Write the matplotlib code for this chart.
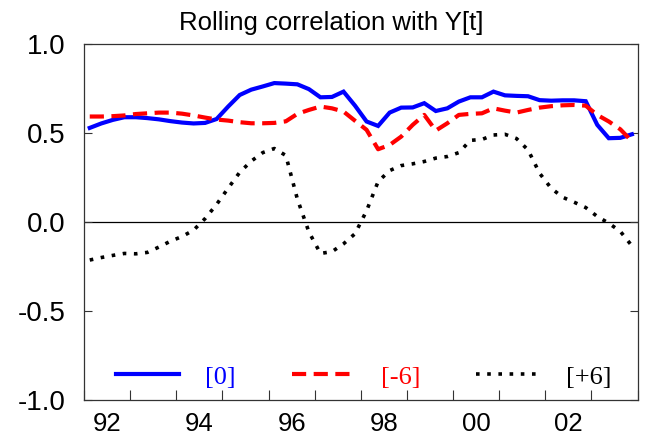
import matplotlib.pyplot as plt
import numpy as np
import pandas as pd

# quarterly sample 1992Q1 .. 2003Q4, plotted at mid-quarter
quarters = pd.period_range("1992Q1", "2003Q4", freq="Q")

corr_0 = [0.53, 0.555, 0.575, 0.59, 0.59, 0.585, 0.578, 0.568, 0.56, 0.555, 0.558, 0.58,
          0.65, 0.715, 0.745, 0.763, 0.782, 0.779, 0.775, 0.748, 0.702, 0.704, 0.734, 0.655,
          0.566, 0.541, 0.616, 0.644, 0.645, 0.669, 0.625, 0.64, 0.678, 0.702, 0.702, 0.734,
          0.713, 0.71, 0.708, 0.686, 0.683, 0.685, 0.685, 0.68, 0.547, 0.472, 0.474, 0.494]
corr_m6 = [0.594, 0.594, 0.596, 0.6, 0.608, 0.612, 0.616, 0.616, 0.61, 0.6, 0.588, 0.577,
           0.571, 0.562, 0.556, 0.556, 0.558, 0.567, 0.609, 0.631, 0.65, 0.64, 0.622, 0.57,
           0.519, 0.41, 0.434, 0.481, 0.547, 0.603, 0.515, 0.556, 0.603, 0.609, 0.612, 0.64,
           0.627, 0.616, 0.631, 0.644, 0.652, 0.657, 0.659, 0.655, 0.603, 0.566, 0.522, 0.455]
corr_p6 = [-0.213, -0.199, -0.187, -0.176, -0.178, -0.17, -0.14, -0.107, -0.081, -0.045, 0.02, 0.1,
           0.191, 0.28, 0.343, 0.391, 0.414, 0.375, 0.13, -0.055, -0.176, -0.166, -0.122, -0.065,
           0.064, 0.228, 0.29, 0.318, 0.328, 0.341, 0.36, 0.369, 0.391, 0.46, 0.465, 0.49,
           0.494, 0.47, 0.406, 0.275, 0.191, 0.14, 0.112, 0.082, 0.032, -0.006, -0.052, -0.133]

year_ticks = list(range(1992, 2005))
label_years = [1992, 1994, 1996, 1998, 2000, 2002]
year_labels = ["92", "94", "96", "98", "00", "02"]
y_ticks = [-1.0, -0.5, 0.0, 0.5, 1.0]
y_labels = ["-1.0", "-0.5", "0.0", "0.5", "1.0"]

plt.rcParams['font.family'] = ['Liberation Sans', 'DejaVu Sans']

x = np.array([q.year + (q.quarter - 0.5) / 4 for q in quarters])

fig = plt.figure(figsize=(6.48, 4.37), dpi=100)
ax = fig.add_axes([0.1296, 0.0847, 0.8544, 0.8139])

ax.axhline(0, color="black", lw=0.9, zorder=1)
ax.plot(x, corr_0, color="#0000FF", lw=3.0, label="[0]", solid_joinstyle="miter")
ax.plot(x, corr_m6, color="#FF0000", lw=3.0, ls=(0, (3.4, 1.8)), label="[-6]")
ax.plot(x, corr_p6, color="black", lw=2.6, ls=(0, (1, 2.1)), label="[+6]")

ax.set_xlim(1992, 2004)
ax.set_ylim(-1, 1)
ax.set_xticks(year_ticks, labels=[])
ax.set_xticks([y + 0.5 for y in label_years], labels=year_labels, minor=True)
ax.tick_params(axis="x", which="major", direction="in", length=7, width=0.8, color="#333333")
ax.tick_params(axis="x", which="minor", length=0, labelsize=18.5, pad=9)
ax.set_yticks(y_ticks, labels=y_labels)
ax.tick_params(axis="y", direction="in", length=6, width=0.8, right=True, color="#333333",
               labelsize=20, pad=13)
for s in ax.spines.values():
    s.set_color("#333333")
    s.set_linewidth(0.9)

# title sits a bit left of the axes centre in the original
ax.text(0.447, 1.040, "Rolling correlation with Y[t]", transform=ax.transAxes,
        ha="center", va="baseline", fontsize=18.5)

leg = ax.legend(loc="center", bbox_to_anchor=(0.505, 0.065), ncol=3, frameon=False,
                handlelength=2.4, handletextpad=1.0, columnspacing=2.1,
                labelcolor="linecolor", prop={"family": "Liberation Serif", "size": 19})

fig.savefig("out.png", dpi=100)
